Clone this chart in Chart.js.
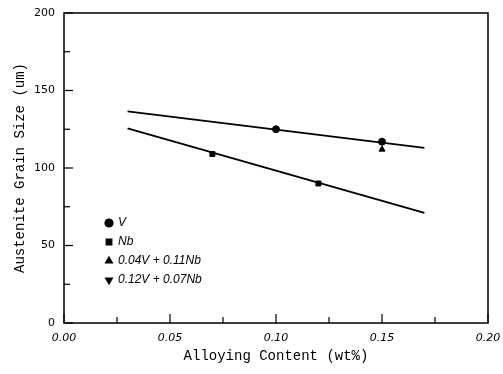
<!DOCTYPE html>
<html>
<head>
<meta charset="utf-8">
<script src="https://cdn.jsdelivr.net/npm/chart.js@4.4.0/dist/chart.umd.min.js"></script>
<style>
  html, body { margin: 0; padding: 0; background: #ffffff; }
  #wrap { width: 503px; height: 374px; }
</style>
</head>
<body>
<div id="wrap"><canvas id="chart" width="503" height="374"></canvas></div>
<script>
// Measured points (alloying content wt%, grain size um)
const vX = [0.10, 0.15];
const vY = [125, 117];
const nbX = [0.07, 0.12];
const nbY = [109, 90];
const mixAX = [0.15];
const mixAY = [112];
const mixBX = [];
const mixBY = [];

// Fitted lines (end points)
const fitVX = [0.03, 0.17];
const fitVY = [136.5, 113];
const fitNbX = [0.03, 0.17];
const fitNbY = [125.5, 71];

const legendLabels = ["V", "Nb", "0.04V + 0.11Nb", "0.12V + 0.07Nb"];

function toPoints(xs, ys) {
    return xs.map((x, i) => ({ x: x, y: ys[i] }));
}

// Inward ticks, frame and in-plot legend
const framePlugin = {
    id: "frame",
    afterDraw(chart) {
        const ctx = chart.ctx;
        const a = chart.chartArea;
        const xs = chart.scales.x;
        const ys = chart.scales.y;
        ctx.save();
        ctx.strokeStyle = "#000";
        ctx.lineWidth = 1.5;
        ctx.strokeRect(a.left, a.top, a.right - a.left, a.bottom - a.top);
        ctx.lineWidth = 1.2;
        xs.ticks.forEach(t => {
            const px = xs.getPixelForValue(t.value);
            const major = Math.abs(Math.round(t.value / 0.05) * 0.05 - t.value) < 1e-6;
            const len = major ? 9 : 6;
            ctx.beginPath();
            ctx.moveTo(px, a.bottom);
            ctx.lineTo(px, a.bottom - len);
            ctx.stroke();
        });
        ys.ticks.forEach(t => {
            const py = ys.getPixelForValue(t.value);
            const len = t.value % 50 === 0 ? 9 : 6;
            ctx.beginPath();
            ctx.moveTo(a.left, py);
            ctx.lineTo(a.left + len, py);
            ctx.stroke();
        });

        // legend inside plot, lower left
        const pointSets = chart.data.datasets.filter(d => d.isMarker);
        pointSets.forEach((d, i) => {
            const y = 223 + i * 19;
            ctx.fillStyle = "#000";
            ctx.strokeStyle = "#000";
            Chart.helpers.drawPoint(ctx, {
                pointStyle: d.pointStyle,
                radius: 4,
                rotation: d.rotation || 0,
                borderWidth: 1
            }, 109, y);
            ctx.font = "italic 12px 'Liberation Sans'";
            ctx.textAlign = "left";
            ctx.textBaseline = "middle";
            ctx.fillText(legendLabels[i], 118, y);
        });
        ctx.restore();
    }
};

const markerStyle = {
    showLine: false,
    backgroundColor: "#000",
    borderColor: "#000",
    pointRadius: 3.5,
    pointBorderWidth: 1,
    isMarker: true
};

const lineStyle = {
    showLine: true,
    borderColor: "#000",
    borderWidth: 1.8,
    pointRadius: 0,
    fill: false
};

new Chart(document.getElementById("chart"), {
    type: "scatter",
    plugins: [framePlugin],
    data: {
        datasets: [
            Object.assign({ label: legendLabels[0], data: toPoints(vX, vY), pointStyle: "circle" }, markerStyle),
            Object.assign({ label: legendLabels[1], data: toPoints(nbX, nbY), pointStyle: "rect" }, markerStyle),
            Object.assign({ label: legendLabels[2], data: toPoints(mixAX, mixAY), pointStyle: "triangle" }, markerStyle),
            Object.assign({ label: legendLabels[3], data: toPoints(mixBX, mixBY), pointStyle: "triangle", rotation: 180 }, markerStyle),
            Object.assign({ label: "fit V", data: toPoints(fitVX, fitVY) }, lineStyle),
            Object.assign({ label: "fit Nb", data: toPoints(fitNbX, fitNbY) }, lineStyle)
        ]
    },
    options: {
        responsive: false,
        animation: false,
        layout: { padding: { left: 0, right: 15, top: 13, bottom: 0 } },
        plugins: {
            legend: { display: false },
            tooltip: { enabled: false }
        },
        scales: {
            x: {
                type: "linear",
                min: 0,
                max: 0.2,
                grid: { display: false, drawTicks: false },
                border: { display: false },
                ticks: {
                    stepSize: 0.025,
                    autoSkip: false,
                    maxRotation: 0,
                    padding: 9,
                    color: "#000",
                    font: { family: "'DejaVu Sans'", size: 11, style: "italic" },
                    callback: v => Math.abs(Math.round(v / 0.05) * 0.05 - v) < 1e-6 ? v.toFixed(2) : ""
                },
                title: {
                    display: true,
                    text: "Alloying Content (wt%)",
                    color: "#000",
                    font: { family: "'Liberation Mono'", size: 14 },
                    padding: { top: 4, bottom: 9 }
                },
                afterFit: s => { s.height = 51; s.paddingLeft = 0; s.paddingRight = 0; }
            },
            y: {
                type: "linear",
                min: 0,
                max: 200,
                grid: { display: false, drawTicks: false },
                border: { display: false },
                ticks: {
                    stepSize: 25,
                    autoSkip: false,
                    padding: 9,
                    color: "#000",
                    font: { family: "'DejaVu Sans'", size: 11 },
                    callback: v => v % 50 === 0 ? v : ""
                },
                title: {
                    display: true,
                    text: "Austenite Grain Size (um)",
                    color: "#000",
                    font: { family: "'Liberation Mono'", size: 14 },
                    padding: { top: 12, bottom: 0 }
                },
                afterFit: s => { s.width = 64; s.paddingTop = 0; s.paddingBottom = 0; }
            }
        }
    }
});
</script>
</body>
</html>
